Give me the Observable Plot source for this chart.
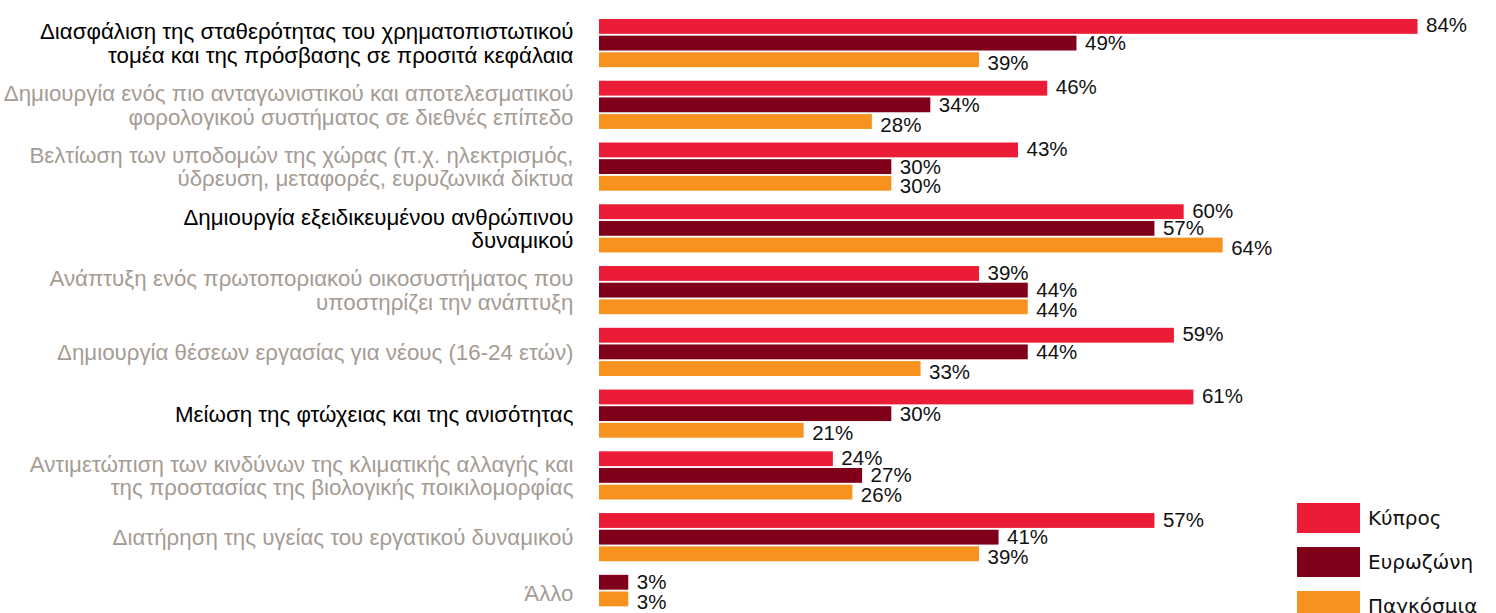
<!DOCTYPE html>
<html><head><meta charset="utf-8">
<script src="https://cdn.jsdelivr.net/npm/d3@7"></script>
<script src="https://cdn.jsdelivr.net/npm/@observablehq/plot@0.6"></script>
<style>
body{margin:0;background:#fff;}
#wrap{position:relative;width:1496px;height:613px;overflow:hidden;}
#legend{position:absolute;left:1297px;top:503px;}
.lg-swatches{font-family:"DejaVu Sans",sans-serif;font-size:20px;color:#111;margin:0 !important;}
.lg-swatch{padding-bottom:14px !important;}
.lg-swatch > svg{margin-right:8px !important;}
</style>
</head><body>
<div id="wrap"><div id="chart"></div><div id="legend"></div></div>
<script>
const categories = [
  "Διασφάλιση της σταθερότητας του χρηματοπιστωτικού\nτομέα και της πρόσβασης σε προσιτά κεφάλαια",
  "Δημιουργία ενός πιο ανταγωνιστικού και αποτελεσματικού\nφορολογικού συστήματος σε διεθνές επίπεδο",
  "Βελτίωση των υποδομών της χώρας (π.χ. ηλεκτρισμός,\nύδρευση, μεταφορές, ευρυζωνικά δίκτυα",
  "Δημιουργία εξειδικευμένου ανθρώπινου\nδυναμικού",
  "Ανάπτυξη ενός πρωτοποριακού οικοσυστήματος που\nυποστηρίζει την ανάπτυξη",
  "Δημιουργία θέσεων εργασίας για νέους (16-24 ετών)",
  "Μείωση της φτώχειας και της ανισότητας",
  "Αντιμετώπιση των κινδύνων της κλιματικής αλλαγής και\nτης προστασίας της βιολογικής ποικιλομορφίας",
  "Διατήρηση της υγείας του εργατικού δυναμικού",
  "Άλλο"
];
const highlighted = [true, false, false, true, false, false, true, false, false, false];
const seriesNames = ["Κύπρος", "Ευρωζώνη", "Παγκόσμια"];
const cyprus    = [84, 46, 43, 60, 39, 59, 61, 24, 57, null];
const eurozone  = [49, 34, 30, 57, 44, 44, 30, 27, 41, 3];
const worldwide = [39, 28, 30, 64, 44, 33, 21, 26, 39, 3];
const seriesColors = ["#ed1c36", "#80001a", "#f7921e"];

// Bars of each category are stacked in order, skipping missing series
const seriesValues = [cyprus, eurozone, worldwide];
const rows = [];
const groupLabels = [];
categories.forEach((cat, i) => {
  let pos = 0;
  seriesNames.forEach((s, j) => {
    const v = seriesValues[j][i];
    if (v == null) return;
    rows.push({cat: i, series: s, value: v, pos: pos++});
  });
  groupLabels.push({cat: i, label: cat, count: pos, strong: highlighted[i]});
});

const textFont = "Liberation Sans, Arial, sans-serif";
const labelFill = d => d.strong ? "#000" : "#a59c94";
const valueText = (data, dy) => Plot.text(data, {
  x: "value", y: "pos", fy: "cat", text: d => d.value + "%",
  textAnchor: "start", dx: 8, dy, fontSize: 20.5, fill: "#111"
});
const chart = Plot.plot({
  width: 1496,
  height: 630,
  marginTop: 19,
  marginBottom: 7,
  marginLeft: 599,
  marginRight: 20,
  style: {fontFamily: textFont, background: "#fff"},
  x: {domain: [0, 90], axis: null},
  y: {type: "band", domain: [0, 1, 2], paddingInner: 0.11, paddingOuter: 0, round: false, axis: null},
  fy: {domain: d3.range(categories.length), paddingInner: 0.22, paddingOuter: 0, round: false, axis: null},
  color: {domain: seriesNames, range: seriesColors},
  marks: [
    Plot.barX(rows, {x: "value", y: "pos", fy: "cat", fill: "series"}),
    valueText(rows.filter(d => d.series === seriesNames[0]), -1),
    valueText(rows.filter(d => d.series === seriesNames[1]), 0),
    valueText(rows.filter(d => d.series === seriesNames[2]), 3),
    Plot.text(groupLabels.filter(d => d.count === 3), {fy: "cat", frameAnchor: "left", text: "label", textAnchor: "end", dx: -26, fontSize: 22.3, lineHeight: 1.05, fill: labelFill}),
    Plot.text(groupLabels.filter(d => d.count !== 3), {fy: "cat", y: 0, frameAnchor: "left", text: "label", textAnchor: "end", dx: -26, dy: 11, fontSize: 22.3, lineHeight: 1.05, fill: labelFill})
  ]
});
document.getElementById("chart").appendChild(chart);
const lg = chart.legend("color", {swatchWidth: 63, swatchHeight: 30, columns: 1, className: "lg"});
document.getElementById("legend").appendChild(lg);
</script>
</body></html>
